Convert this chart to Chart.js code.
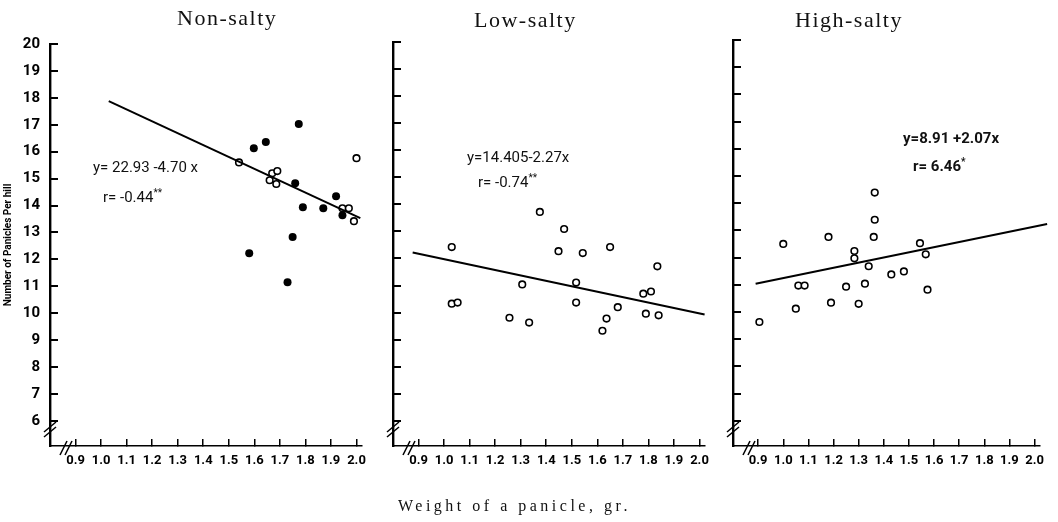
<!DOCTYPE html>
<html>
<head>
<meta charset="utf-8">
<script src="https://cdn.jsdelivr.net/npm/chart.js@4.4.1/dist/chart.umd.min.js"></script>
<style>
  body { margin: 0; background: #fff; width: 1058px; height: 522px; position: relative; overflow: hidden; }
  canvas { position: absolute; top: 0; }
  .ttl { position: absolute; font-family: 'Liberation Serif', serif; font-size: 22px; letter-spacing: 1.5px; color: #111; white-space: nowrap; }
  .eq { position: absolute; font-family: Roboto, 'Liberation Sans', sans-serif; font-size: 15px; line-height: 16px; color: #111; white-space: nowrap; }
  .eq sup { font-size: 10px; }
  .xlab { position: absolute; font-family: 'Liberation Serif', serif; font-size: 16px; letter-spacing: 3.5px; color: #111; white-space: nowrap; }
</style>
</head>
<body>
<canvas id="nonSalty" width="380" height="480" style="left:0px"></canvas>
<canvas id="lowSalty" width="380" height="480" style="left:343px"></canvas>
<canvas id="highSalty" width="375" height="480" style="left:683px"></canvas>

<div class="ttl" style="left:177px; top:5px">Non-salty</div>
<div class="ttl" style="left:474px; top:7px">Low-salty</div>
<div class="ttl" style="left:795px; top:7px">High-salty</div>

<div class="eq" style="left:93px; top:159px">y= 22.93 -4.70 x</div>
<div class="eq" style="left:103px; top:185px">r= -0.44<sup>**</sup></div>
<div class="eq" style="left:467px; top:149px">y=14.405-2.27x</div>
<div class="eq" style="left:478px; top:170px">r= -0.74<sup>**</sup></div>
<div class="eq" style="left:903px; top:130px; font-weight:bold">y=8.91 +2.07x</div>
<div class="eq" style="left:913px; top:154px; font-weight:bold">r= 6.46<sup>*</sup></div>

<div class="xlab" style="left:398px; top:497px">Weight of a panicle, gr.</div>

<script>
// axis ticks
const xTicks = [0.9, 1.0, 1.1, 1.2, 1.3, 1.4, 1.5, 1.6, 1.7, 1.8, 1.9, 2.0]
const xTickLabels = ['0.9', '1.0', '1.1', '1.2', '1.3', '1.4', '1.5', '1.6', '1.7', '1.8', '1.9', '2.0']
const yTicks = [6, 7, 8, 9, 10, 11, 12, 13, 14, 15, 16, 17, 18, 19, 20]
const yTickLabels = ['6', '7', '8', '9', '10', '11', '12', '13', '14', '15', '16', '17', '18', '19', '20']

// Non-salty: filled dots and open circles
const nonSaltySolidX = [1.598, 1.645, 1.774, 1.76, 1.79, 1.87, 1.92, 1.945, 1.75, 1.58, 1.73]
const nonSaltySolidY = [16.13, 16.36, 17.03, 14.83, 13.94, 13.9, 14.35, 13.64, 12.83, 12.23, 11.15]
const nonSaltyOpenX = [1.54, 1.67, 1.69, 1.66, 1.686, 2.0, 1.945, 1.97, 1.99]
const nonSaltyOpenY = [15.6, 15.2, 15.28, 14.94, 14.8, 15.76, 13.9, 13.9, 13.42]
const nonSaltyLineX = [1.03, 2.015]
const nonSaltyLineY = [17.88, 13.53]

// Low-salty
const lowSaltyX = [1.375, 1.47, 1.03, 1.448, 1.543, 1.65, 1.835, 1.306, 1.517, 1.03, 1.053, 1.517, 1.78, 1.81, 1.68, 1.256, 1.333, 1.636, 1.62, 1.79, 1.84]
const lowSaltyY = [13.72, 13.09, 12.42, 12.27, 12.2, 12.42, 11.71, 11.04, 11.11, 10.33, 10.37, 10.37, 10.7, 10.78, 10.2, 9.81, 9.63, 9.78, 9.33, 9.96, 9.9]
const lowSaltyLineX = [0.877, 2.02]
const lowSaltyLineY = [12.22, 9.93]

// High-salty
const highSaltyX = [1.364, 1.364, 1.36, 1.18, 1.0, 1.283, 1.283, 1.544, 1.567, 1.34, 1.43, 1.48, 1.06, 1.085, 1.25, 1.325, 1.574, 1.05, 1.19, 1.3, 0.905]
const highSaltyY = [14.39, 13.39, 12.76, 12.76, 12.5, 12.24, 11.97, 12.53, 12.12, 11.68, 11.38, 11.49, 10.97, 10.97, 10.93, 11.04, 10.82, 10.12, 10.34, 10.3, 9.63]
const highSaltyLineX = [0.89, 2.05]
const highSaltyLineY = [11.04, 13.23]

const tickFont = "Roboto, 'Liberation Sans', sans-serif"

function toPoints(xs, ys) {
  return xs.map((x, i) => ({ x: x, y: ys[i] }))
}

// small "//" marks where the axes are broken near the origin
const axisBreakPlugin = {
  id: 'axisBreak',
  afterDraw: (chart) => {
    const { ctx, chartArea } = chart
    const l = chartArea.left
    const b = chartArea.bottom
    ctx.save()
    ctx.strokeStyle = '#000'
    ctx.lineWidth = 1.5
    for(let d = 0; d < 2; d++) {
      ctx.beginPath()
      ctx.moveTo(l - 6, b - 9 - d * 5)
      ctx.lineTo(l + 6, b - 19 - d * 5)
      ctx.stroke()
      ctx.beginPath()
      ctx.moveTo(l + 10 + d * 5, b + 9)
      ctx.lineTo(l + 17 + d * 5, b - 5)
      ctx.stroke()
    }
    ctx.restore()
  }
}

function makePanel(id, top, showYLabels, datasets, rightPad) {
  return new Chart(document.getElementById(id), {
    type: 'scatter',
    data: { datasets: datasets },
    plugins: [axisBreakPlugin],
    options: {
      responsive: false,
      animation: false,
      events: [],
      layout: { padding: { top: top, right: rightPad, left: 0, bottom: 0 } },
      plugins: { legend: { display: false }, tooltip: { enabled: false } },
      scales: {
        x: {
          type: 'linear',
          min: 0.8,
          max: 2.02,
          afterBuildTicks: (scale) => { scale.ticks = xTicks.map(v => ({ value: v })) },
          afterFit: (scale) => { scale.height = 34 },
          grid: { drawOnChartArea: false, tickLength: -7, color: '#000', lineWidth: 1.5 },
          border: { color: '#000', width: 1.6 },
          ticks: {
            autoSkip: false,
            maxRotation: 0,
            padding: 14,
            color: '#000',
            font: { family: tickFont, size: 13, weight: 'bold' },
            callback: (v, i) => xTickLabels[i]
          }
        },
        y: {
          type: 'linear',
          min: 5.07,
          max: 20,
          afterBuildTicks: (scale) => { scale.ticks = yTicks.map(v => ({ value: v })) },
          afterFit: (scale) => { scale.width = 50 },
          grid: { drawOnChartArea: false, tickLength: -8, color: '#000', lineWidth: 2 },
          border: { color: '#000', width: 2.4 },
          title: {
            display: showYLabels,
            text: 'Number of Panicles Per hill',
            color: '#000',
            padding: { top: 2, bottom: 0 },
            font: { family: tickFont, size: 10, weight: 'bold' }
          },
          ticks: {
            display: showYLabels,
            autoSkip: false,
            padding: 18,
            color: '#000',
            font: { family: tickFont, size: 15, weight: 'bold' },
            callback: (v, i) => yTickLabels[i]
          }
        }
      }
    }
  })
}

function openDots(points) {
  return {
    data: points,
    pointRadius: 3.3,
    pointBorderWidth: 1.6,
    pointBackgroundColor: '#fff',
    pointBorderColor: '#000'
  }
}

function regressionLine(points, clip) {
  return {
    type: 'line',
    data: points,
    showLine: true,
    pointRadius: 0,
    borderColor: '#000',
    borderWidth: 2,
    clip: clip
  }
}

makePanel('nonSalty', 44, true, [
  regressionLine(toPoints(nonSaltyLineX, nonSaltyLineY), 0),
  {
    data: toPoints(nonSaltySolidX, nonSaltySolidY),
    pointRadius: 4,
    pointBackgroundColor: '#000',
    pointBorderColor: '#000',
    pointBorderWidth: 0
  },
  openDots(toPoints(nonSaltyOpenX, nonSaltyOpenY))
], 10)

makePanel('lowSalty', 42, false, [
  regressionLine(toPoints(lowSaltyLineX, lowSaltyLineY), false),
  openDots(toPoints(lowSaltyX, lowSaltyY))
], 10)

makePanel('highSalty', 40, false, [
  regressionLine(toPoints(highSaltyLineX, highSaltyLineY), false),
  openDots(toPoints(highSaltyX, highSaltyY))
], 5)
</script>
</body>
</html>
